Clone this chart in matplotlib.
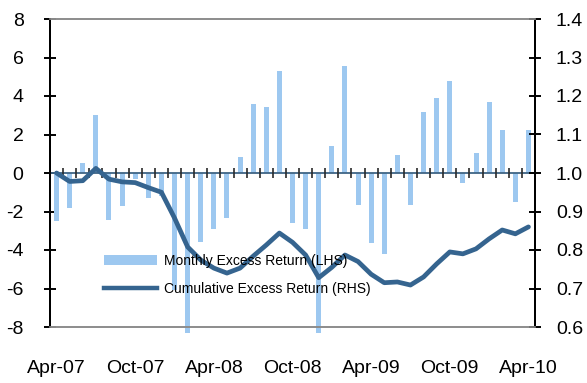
import numpy as np
import matplotlib
matplotlib.use("Agg")
import matplotlib.pyplot as plt
from matplotlib.patches import Patch
from matplotlib.lines import Line2D

plt.rcParams['font.family'] = ['Liberation Sans', 'DejaVu Sans']
plt.rcParams['axes.unicode_minus'] = False

# monthly data, Apr-07 .. Apr-10
months = ['Apr-07', 'May-07', 'Jun-07', 'Jul-07', 'Aug-07', 'Sep-07', 'Oct-07',
          'Nov-07', 'Dec-07', 'Jan-08', 'Feb-08', 'Mar-08', 'Apr-08', 'May-08',
          'Jun-08', 'Jul-08', 'Aug-08', 'Sep-08', 'Oct-08', 'Nov-08', 'Dec-08',
          'Jan-09', 'Feb-09', 'Mar-09', 'Apr-09', 'May-09', 'Jun-09', 'Jul-09',
          'Aug-09', 'Sep-09', 'Oct-09', 'Nov-09', 'Dec-09', 'Jan-10', 'Feb-10',
          'Mar-10', 'Apr-10']
monthly_excess = [-2.5, -1.8, 0.5, 3.0, -2.45, -1.7, -0.3, -1.3, -1.2, -6.1,
                  -8.3, -3.6, -2.9, -2.35, 0.85, 3.6, 3.45, 5.3, -2.6, -2.9,
                  -8.3, 1.4, 5.55, -1.65, -3.65, -4.2, 0.95, -1.65, 3.15, 3.9,
                  4.8, -0.5, 1.05, 3.7, 2.25, -1.5, 2.25]
cumulative_excess = [1.0, 0.978, 0.98, 1.012, 0.984, 0.977, 0.975, 0.962, 0.95,
                     0.883, 0.808, 0.774, 0.753, 0.74, 0.753, 0.784, 0.813,
                     0.844, 0.82, 0.787, 0.728, 0.755, 0.787, 0.77, 0.737,
                     0.715, 0.717, 0.709, 0.73, 0.764, 0.795, 0.79, 0.803,
                     0.829, 0.852, 0.842, 0.86]
label_every = 6

bar_color = '#9DC8F0'
line_color = '#35648F'

x = np.arange(len(months))

fig = plt.figure(figsize=(5.87, 3.83), dpi=100)
ax = fig.add_axes([50 / 587, 1 - 327 / 383, 485 / 587, 308 / 383])
ax2 = ax.twinx()

ax.bar(x, monthly_excess, width=0.38, color=bar_color, zorder=2, clip_on=False)
ax.set_xlim(-0.5, len(months) - 0.5)
ax.set_ylim(-8, 8)
ax.set_yticks(np.arange(-8, 9, 2))

# category axis sits on the zero line, ticks between months
ax.axhline(0, color='#3F6585', lw=1.3, zorder=3)
bounds = np.arange(0.5, len(months) - 1, 1.0)
ax.vlines(bounds, -0.25, 0.25, color='#2A2A2A', lw=1.2, zorder=3)

ax.set_xticks(x[::label_every])
ax.set_xticklabels(months[::label_every])
ax.tick_params(axis='x', length=0, pad=24, labelsize=14)
ax.tick_params(axis='y', direction='inout', length=8, width=1.4, pad=15,
               labelsize=14, colors='black')

ax2.plot(x, cumulative_excess, color=line_color, lw=3.4, solid_joinstyle='round',
         solid_capstyle='round', zorder=4)
ax2.set_ylim(0.6, 1.4)
ax2.set_yticks(np.round(np.arange(0.6, 1.41, 0.1), 1))
ax2.set_yticklabels([f'{v:.1f}' for v in np.arange(0.6, 1.41, 0.1)])
ax2.tick_params(axis='y', direction='inout', length=8, width=1.4, pad=11,
                labelsize=14)

for a in (ax, ax2):
    a.spines['left'].set_color('black')
    a.spines['left'].set_linewidth(1.4)
    a.spines['right'].set_color('black')
    a.spines['right'].set_linewidth(1.4)
    a.spines['top'].set_color('#8C8C8C')
    a.spines['top'].set_linewidth(1.2)
    a.spines['bottom'].set_color('#8C8C8C')
    a.spines['bottom'].set_linewidth(1.2)

handles = [Patch(facecolor=bar_color, edgecolor='none'),
           Line2D([], [], color=line_color, lw=3.2)]
labels = ['Monthly Excess Return (LHS)', 'Cumulative Excess Return (RHS)']
ax2.legend(handles, labels, loc='upper left', frameon=False, fontsize=10,
           bbox_to_anchor=(104 / 587, 1 - 254 / 383),
           bbox_transform=fig.transFigure, borderpad=0, borderaxespad=0,
           handlelength=3.8, handleheight=0.8, handletextpad=0.5,
           labelspacing=1.0)

fig.savefig('out.png', dpi=100)
